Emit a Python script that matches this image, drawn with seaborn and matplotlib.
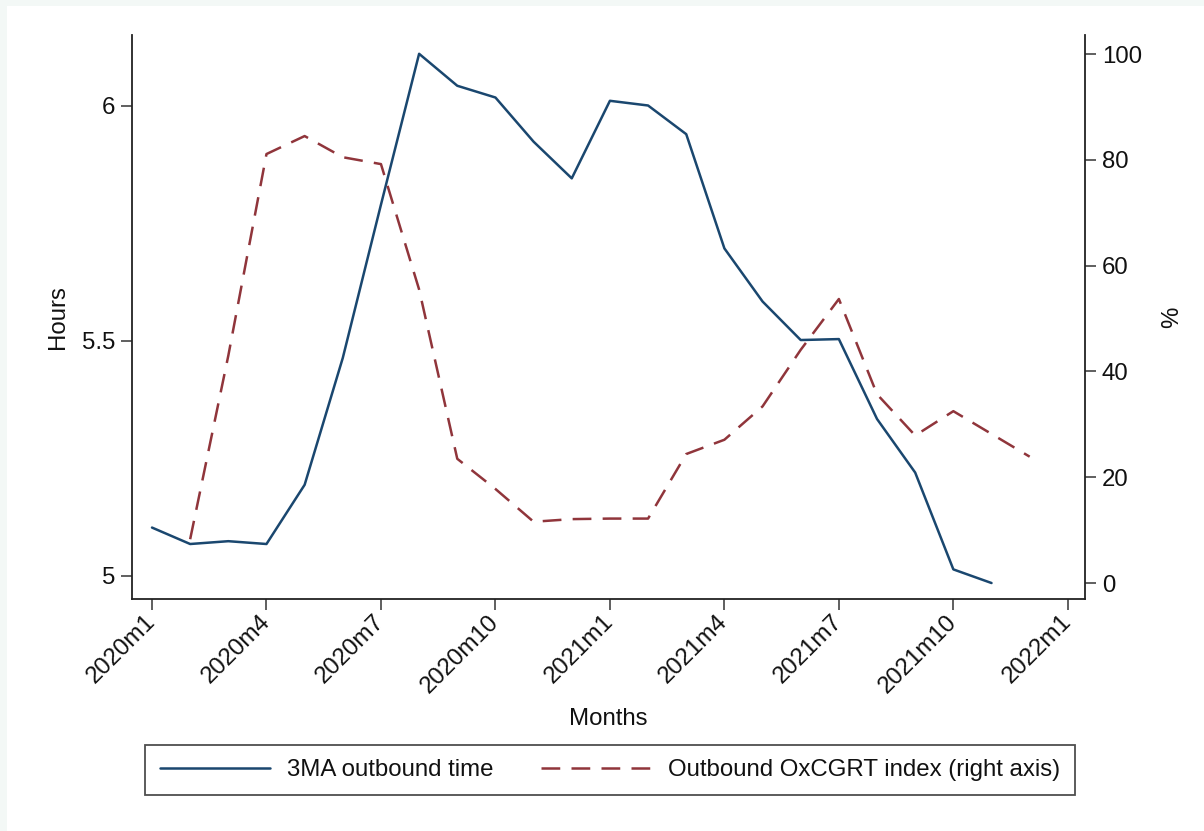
import numpy as np
import pandas as pd
import seaborn as sns
import matplotlib.pyplot as plt
from matplotlib.patches import Rectangle

# monthly series, 2020m1 .. 2021m12
months = list(range(24))
tick_pos = [0, 3, 6, 9, 12, 15, 18, 21, 24]
tick_labels = ['2020m1', '2020m4', '2020m7', '2020m10', '2021m1',
               '2021m4', '2021m7', '2021m10', '2022m1']

outbound_time = [5.103, 5.068, 5.074, 5.068, 5.194, 5.464, 5.79, 6.111,
                 6.043, 6.018, 5.924, 5.846, 6.011, 6.001, 5.94, 5.697,
                 5.584, 5.502, 5.504, 5.334, 5.22, 5.014, 4.985, np.nan]
oxcgrt_index = [np.nan, 8.3, 43.0, 81.1, 84.5, 80.5, 79.2, 55.5,
                23.5, 17.8, 11.6, 12.1, 12.2, 12.2, 24.4, 27.1,
                33.4, 44.1, 53.7, 35.7, 27.9, 32.5, 28.2, 23.9]

df = pd.DataFrame({'month': months, 'time': outbound_time, 'index': oxcgrt_index})

sns.set_style("ticks")
plt.rcParams['font.family'] = ['Liberation Sans', 'DejaVu Sans']
plt.rcParams['text.color'] = '#111111'
plt.rcParams['axes.labelcolor'] = '#111111'

navy = '#1a476f'
maroon = '#90353b'
fs = 17.3

fig = plt.figure(figsize=(12.04, 8.31), dpi=100)
fig.patch.set_facecolor('#f3f8f6')
fig.patches.append(Rectangle((7 / 1204, 0), 1, 1 - 6 / 831, transform=fig.transFigure,
                             facecolor='white', edgecolor='none', zorder=-1))

ax = fig.add_axes([132 / 1204, 1 - 599 / 831, (1085 - 132) / 1204, (599 - 35) / 831])
ax.set_facecolor('none')
ax2 = ax.twinx()

sns.lineplot(data=df, x='month', y='time', ax=ax, color=navy, linewidth=1.8,
             label='3MA outbound time', legend=False)
sns.lineplot(data=df, x='month', y='index', ax=ax2, color=maroon, linewidth=1.8,
             label='Outbound OxCGRT index (right axis)', legend=False)
ax2.lines[0].set_dashes((7.5, 4.5))

ax.set_xlim(-0.524, 24.45)
ax.set_ylim(4.951, 6.151)
ax2.set_ylim(-3.0, 103.6)

ax.set_xticks(tick_pos)
ax.set_xticklabels(tick_labels, rotation=45, ha='right', va='center', rotation_mode='anchor')
ax.set_yticks([5, 5.5, 6])
ax.set_yticklabels(['5', '5.5', '6'])
ax2.set_yticks([0, 20, 40, 60, 80, 100])

for a in (ax, ax2):
    a.tick_params(labelsize=fs, length=8, width=1.2, color='#444444', labelcolor='#111111', pad=4)
    for s in a.spines.values():
        s.set_linewidth(1.3)
        s.set_color('#222222')
    a.spines['top'].set_visible(False)
ax.tick_params(axis='x', pad=6)
ax.spines['right'].set_visible(False)
ax2.spines['left'].set_visible(False)
ax2.spines['bottom'].set_visible(False)

ax.set_xlabel('Months', fontsize=fs, labelpad=8)
ax.set_ylabel('Hours', fontsize=fs, labelpad=9)
ax2.set_ylabel('%', fontsize=fs, labelpad=14)

handles = ax.get_lines()[:1] + ax2.get_lines()[:1]
leg = fig.legend(handles, ['3MA outbound time', 'Outbound OxCGRT index (right axis)'],
                 loc='center', bbox_to_anchor=(610 / 1204, 1 - 770 / 831), ncol=2,
                 fontsize=fs, frameon=True, fancybox=False, handlelength=4.6,
                 handletextpad=0.7, columnspacing=1.95, borderpad=0.6)
leg.get_frame().set_edgecolor('#222222')
leg.get_frame().set_linewidth(1.3)

fig.savefig('out.png', dpi=100)
